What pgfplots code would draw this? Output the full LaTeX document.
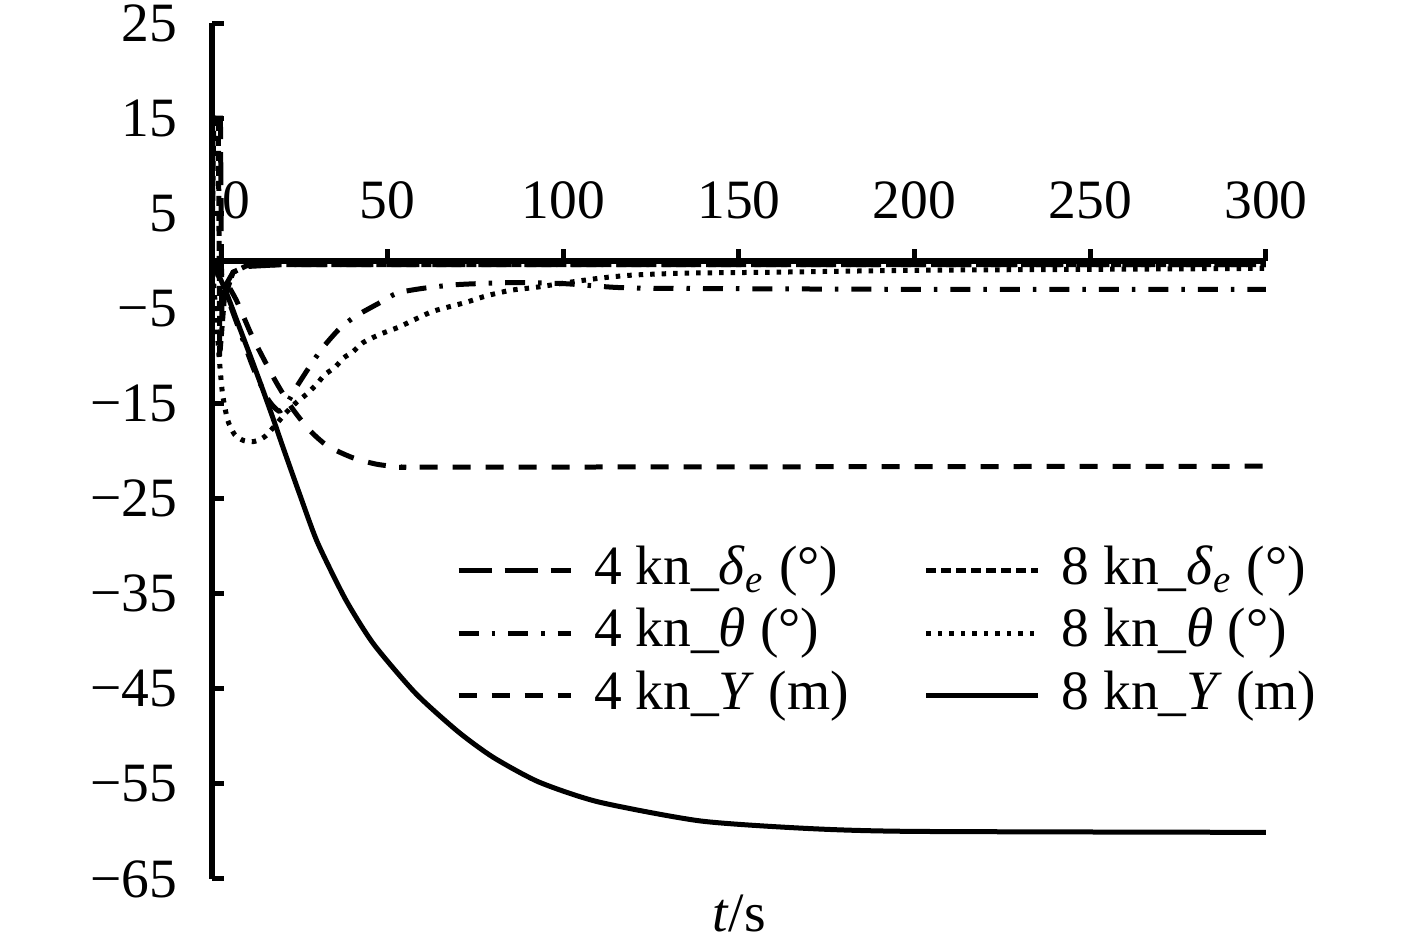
\documentclass[border=0pt]{standalone}
\usepackage{fontspec}
\setmainfont{Liberation Serif}
\usepackage{pgfplots}
\pgfplotsset{compat=1.18}

\begin{document}
\fontsize{11.1pt}{13.3pt}\selectfont
\begin{tikzpicture}
\begin{axis}[
  scale only axis, width=210.8pt, height=171.2pt,
  xmin=0, xmax=300, ymin=-65, ymax=25,
  axis x line*=middle, axis y line*=left,
  hide obscured x ticks=false,
  axis line style={line width=1.1pt},
  xtick={0,50,...,300},
  xticklabels={\hspace*{9.6pt}0,50,100,150,200,250,300},
  ytick={-65,-55,...,25},
  yticklabels={−65,−55,−45,−35,−25,−15,−5,5,15,25},
  tick align=inside,
  major tick length=2.4pt,
  tick style={line width=1pt, black},
  xticklabel style={anchor=base, yshift=8.4pt},
  yticklabel style={anchor=east, inner sep=0pt, xshift=-6.8pt},
  clip=false,
  no marks,
  every axis plot/.append style={line width=1pt, black},
  legend columns=2, legend cell align=left,
  legend image code/.code={\draw[#1] (0pt,0pt) -- (22.4pt,0pt);},
  legend style={draw=none, fill=none, inner sep=0pt,
    at={(axis cs:69.2,-29.4)}, anchor=north west,
    nodes={inner sep=0pt, text height=8.6pt, text depth=3.2pt},
    row sep=0.7pt, column sep=4.2pt,
    /tikz/every even column/.append style={column sep=15pt}},
]
% 4 kn delta_e
\addplot[dash pattern=on 6.6pt off 2.6pt] coordinates {
  (0,0) (0.3,15) (2.4,15) (2.8,-6) (4,-2.5) (6,-1.2) (10,-0.6) (20,-0.4) (300,-0.4)};
\addlegendentry{4 kn\_\textit{δ}\textsubscript{\textit{e}} (°)}
% 8 kn delta_e
\addplot[dash pattern=on 2pt off 1pt] coordinates {
  (0,0) (0.5,15) (1.8,15) (2.2,-10) (3.5,-4) (6,-1.2) (10,-0.5) (20,-0.4) (300,-0.4)};
\addlegendentry{8 kn\_\textit{δ}\textsubscript{\textit{e}} (°)}
% 4 kn theta
\addplot[dash pattern=on 4pt off 2.6pt on 0.7pt off 2.6pt, smooth, tension=0.4] coordinates {
  (0,0) (4,-3.5) (8,-7.5) (12,-11.5) (16,-14.6) (19,-15.8) (21,-15.2) (24,-13.3)
  (28,-11) (31.6,-9.1) (36.4,-7.1) (41,-5.8) (47.8,-4.4) (52.7,-3.4) (60,-2.9)
  (70,-2.5) (85,-2.3) (100,-2.4) (115,-2.8) (130,-2.9) (200,-3) (300,-3)};
\addlegendentry{4 kn\_\textit{θ} (°)}
% 8 kn theta
\addplot[dash pattern=on 0.9pt off 1.4pt, smooth, tension=0.4] coordinates {
  (0,0) (1,-5) (2,-10) (3,-14) (4.5,-16.8) (6.5,-18.3) (9,-18.9) (12,-19) (15,-18.5)
  (18,-17.3) (21,-16) (24,-14.9) (27,-14) (30,-12.9) (32,-12) (35,-11.2) (37.5,-10.2)
  (40,-9.6) (43,-8.6) (48,-7.7) (53,-7) (57,-6.3) (63,-5.3) (72,-4.4) (78,-3.7)
  (85,-3.1) (92,-2.8) (101,-2.3) (111,-1.8) (120,-1.5) (135,-1.3) (160,-1.2)
  (200,-1) (250,-0.9) (300,-0.8)};
\addlegendentry{8 kn\_\textit{θ} (°)}
% 4 kn Y
\addplot[dash pattern=on 3.6pt off 3pt, smooth, tension=0.4] coordinates {
  (0,0) (3,-1.6) (7,-4.2) (11.5,-8) (18,-12.6) (23,-15.6) (28,-17.9) (33,-19.5)
  (40,-20.7) (47,-21.4) (55,-21.7) (70,-21.7) (300,-21.6)};
\addlegendentry{4 kn\_\textit{Y} (m)}
% 8 kn Y
\addplot[solid, smooth, tension=0.4] coordinates {
  (0,0) (3.7,-3) (7.4,-6.6) (11.4,-10.5) (14.5,-13.6) (17.5,-16.7) (20.2,-19.6)
  (25,-24.6) (30,-29.6) (38,-35.6) (46,-40.3) (58,-45.5) (70,-49.5) (80,-52.2)
  (93,-54.8) (110,-56.9) (139,-58.9) (170,-59.7) (200,-60) (300,-60.1)};
\addlegendentry{8 kn\_\textit{Y} (m)}
\node[anchor=base, yshift=-10.6pt] at (axis cs:150,-65) {\textit{t}/s};
\path (axis cs:-60.35,27.42) rectangle (axis cs:343,-71.21);
\end{axis}
\end{tikzpicture}
\end{document}
